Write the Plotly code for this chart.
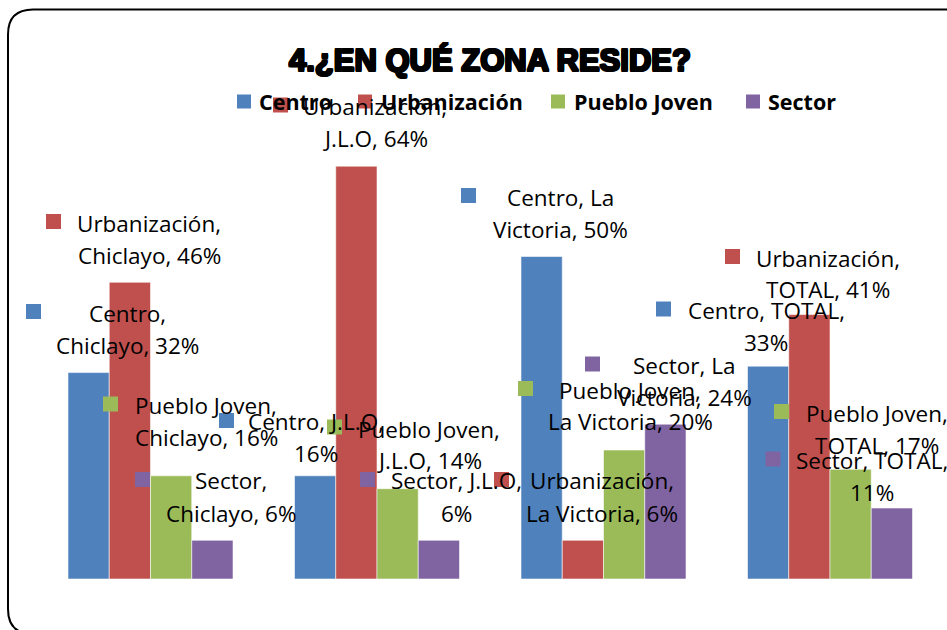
import plotly.graph_objects as go

# ---------------- data ----------------
categories = ["Chiclayo", "J.L.O", "La Victoria", "TOTAL"]
series_names = ["Centro", "Urbanización", "Pueblo Joven", "Sector"]
centro = [32, 16, 50, 33]
urbanizacion = [46, 64, 6, 41]
pueblo_joven = [16, 14, 20, 17]
sector = [6, 6, 24, 11]
series_values = [centro, urbanizacion, pueblo_joven, sector]
title_text = "4.¿EN QUÉ ZONA RESIDE?"
# word index after which each data label wraps (Excel-style wrapping)
label_breaks = [[1, 2, 2, 2], [1, 1, 1, 1], [2, 2, 2, 2], [1, 2, 2, 2]]

# ---------------- style ----------------
W, H = 947, 630
colors = ["#4F81BD", "#C0504D", "#9BBB59", "#8064A2"]
LABEL_FONT = "Open Sans"
LINE_GAP = 32
# (marker x, marker y, text centre x, first line centre y) in pixels
label_pos = [
    [(33.5, 311.5, 128, 313), (226.5, 420.5, 316, 421), (468.5, 195.5, 560, 197), (663.5, 309, 766, 310)],
    [(53.5, 221.5, 149, 223), (280.5, 105, 375, 106.5), (501.5, 479.5, 602, 481), (732.5, 256.5, 828, 258)],
    [(110.5, 404, 206, 405), (334.5, 427, 429, 429), (525.5, 388.5, 630, 390), (781.5, 411.5, 877, 413)],
    [(142.5, 479.5, 231, 481), (367.5, 479.5, 456, 481), (592.5, 364, 684, 365), (773, 459, 872, 460)],
]
legend_marker_x = [237, 358, 551, 746]
legend_text_x = [257, 379, 572, 766]
legend_y = 101.5


def fx(p):
    return p / W


def fy(p):
    return 1 - p / H


fig = go.Figure()
for name, vals, col in zip(series_names, series_values, colors):
    fig.add_trace(go.Bar(
        name=name, x=categories, y=vals,
        marker=dict(color=col, line=dict(color="rgba(255,255,255,0.55)", width=1)),
        showlegend=False, hoverinfo="skip",
    ))

annotations = []
shapes = []

# data labels
for s, (name, vals) in enumerate(zip(series_names, series_values)):
    for c, cat in enumerate(categories):
        words = f"{name}, {cat}, {vals[c]}%".split(" ")
        b = label_breaks[s][c]
        lines = [" ".join(words[:b]), " ".join(words[b:])]
        mx, my, tx, ty = label_pos[s][c]
        for i, ln in enumerate(lines):
            annotations.append(dict(
                xref="paper", yref="paper", x=fx(tx), y=fy(ty + i * LINE_GAP),
                xanchor="center", yanchor="middle", text=ln, showarrow=False,
                font=dict(family=LABEL_FONT, size=22.5, color="#000000"),
            ))
        shapes.append(dict(
            type="rect", xref="paper", yref="paper",
            x0=fx(mx - 7.5), x1=fx(mx + 7.5), y0=fy(my - 7.5), y1=fy(my + 7.5),
            fillcolor=colors[s], line=dict(width=0), layer="above",
        ))

# legend
for s, name in enumerate(series_names):
    shapes.append(dict(
        type="rect", xref="paper", yref="paper",
        x0=fx(legend_marker_x[s]), x1=fx(legend_marker_x[s] + 14),
        y0=fy(legend_y - 7), y1=fy(legend_y + 7),
        fillcolor=colors[s], line=dict(width=0), layer="above",
    ))
    annotations.append(dict(
        xref="paper", yref="paper", x=fx(legend_text_x[s]), y=fy(legend_y),
        xanchor="left", yanchor="middle", text=f"<b>{name}</b>", showarrow=False,
        font=dict(family=LABEL_FONT, size=21.5, color="#000000"),
    ))

# chart border (rounded rectangle, running off the right and bottom edge)
r = 25
x0, y0, y1 = 8, 9.5, 634
border = (f"M {fx(960)},{fy(y0)} L {fx(x0 + r)},{fy(y0)} "
          f"Q {fx(x0)},{fy(y0)} {fx(x0)},{fy(y0 + r)} "
          f"L {fx(x0)},{fy(y1 - r)} Q {fx(x0)},{fy(y1)} {fx(x0 + r)},{fy(y1)} "
          f"L {fx(960)},{fy(y1)}")
shapes.append(dict(type="path", xref="paper", yref="paper", path=border,
                   line=dict(color="#000000", width=2), layer="above"))

annotations.append(dict(
    xref="paper", yref="paper", x=fx(490), y=fy(60), xanchor="center", yanchor="middle",
    text=f"<b>{title_text}</b>", showarrow=False,
    font=dict(family="Liberation Sans", size=31, color="#000000",
              shadow="1px 0 0 #000, -1px 0 0 #000, 0 1px 0 #000, 0 -1px 0 #000, "
                     "1px 1px 0 #000, -1px -1px 0 #000, 1px -1px 0 #000, -1px 1px 0 #000"),
))

fig.update_layout(
    width=W, height=H,
    margin=dict(l=0, r=0, t=0, b=0),
    paper_bgcolor="white", plot_bgcolor="white",
    barmode="group", bargap=0.2715, bargroupgap=0,
    xaxis=dict(domain=[37.25 / W, 943.25 / W], type="category", range=[-0.5, 3.5],
               visible=False, fixedrange=True),
    yaxis=dict(domain=[fy(579), fy(579 - 70 * 6.45)], range=[0, 70],
               visible=False, fixedrange=True),
    annotations=annotations, shapes=shapes, showlegend=False,
)
fig.write_html("out.html", config={"displayModeBar": False},
               post_script="document.body.style.margin='0';")
